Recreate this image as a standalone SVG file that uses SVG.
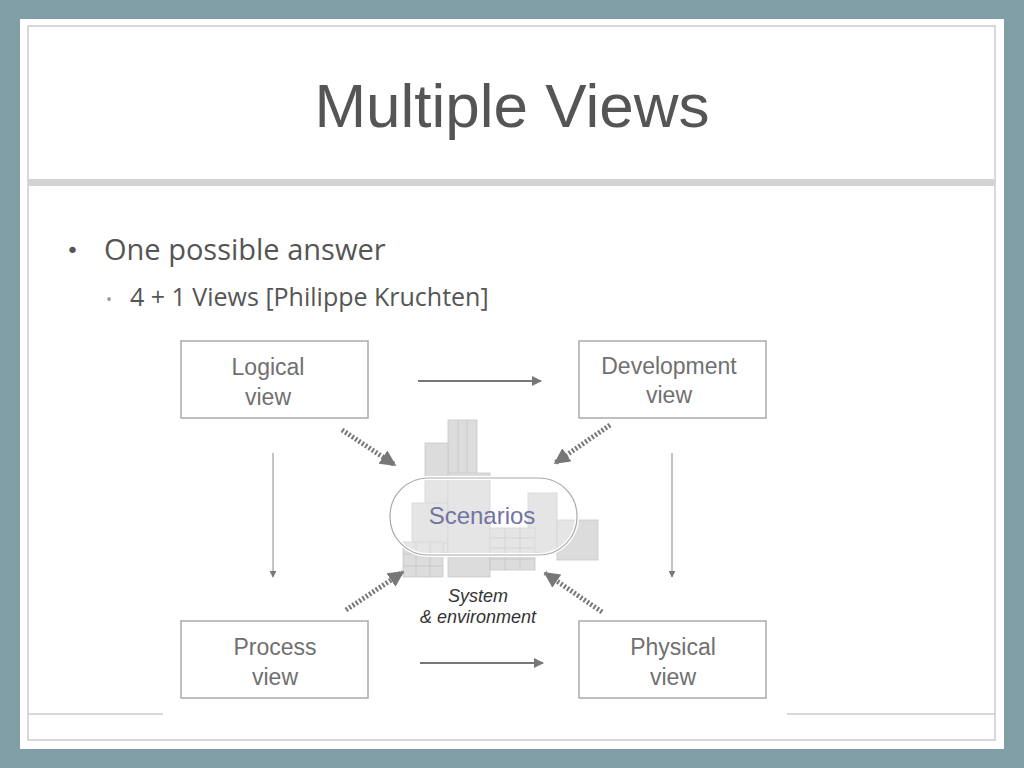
<svg xmlns="http://www.w3.org/2000/svg" width="1024" height="768" viewBox="0 0 1024 768">
<defs>
<marker id="tri" viewBox="0 0 10 10" refX="9" refY="5" markerWidth="3.2" markerHeight="3.2" orient="auto"><path d="M0,0 L10,5 L0,10 z" fill="#777"/></marker>
<marker id="sm" viewBox="0 0 10 10" refX="9" refY="5" markerWidth="7" markerHeight="7" orient="auto" markerUnits="userSpaceOnUse"><path d="M0,0 L10,5 L0,10 z" fill="#777"/></marker>
<marker id="md" viewBox="0 0 10 10" refX="9" refY="5" markerWidth="12" markerHeight="10" orient="auto" markerUnits="userSpaceOnUse"><path d="M0,0 L10,5 L0,10 z" fill="#777"/></marker>
</defs>
<style>
.box{fill:#fff;stroke:#aaa;stroke-width:1.5}
.lbl{font-family:"Liberation Sans",Arial,sans-serif;font-size:23px;fill:#707070;text-anchor:middle}
.bld{fill:#dcdcdc;stroke:#c8c8c8;stroke-width:0.8}
.dot{stroke:#777;stroke-width:5;stroke-dasharray:2 2;fill:none}
.sol{stroke:#777;stroke-width:2;fill:none}
.vert{stroke:#888;stroke-width:1;fill:none}
</style>
<rect width="1024" height="768" fill="#7f9ea6"/>
<rect x="20" y="19" width="984" height="730" fill="#fff"/>
<rect x="28" y="26" width="967" height="714" fill="none" stroke="#ccc" stroke-width="1.5"/>
<rect x="28" y="179" width="967" height="7" fill="#d3d3d3"/>
<text x="512" y="127" font-family="Liberation Sans,Arial,sans-serif" font-size="62" fill="#555" text-anchor="middle">Multiple Views</text>
<text x="66" y="258" font-family="DejaVu Sans,sans-serif" font-size="22" fill="#555">•</text>
<text x="104" y="260" font-family="Open Sans,sans-serif" font-size="29" fill="#555">One possible answer</text>
<text x="106" y="305" font-family="Open Sans,sans-serif" font-size="16" fill="#999">•</text>
<text x="130" y="306" font-family="Open Sans,sans-serif" font-size="25" fill="#555">4 + 1 Views [Philippe Kruchten]</text>
<line x1="28" y1="714" x2="995" y2="714" stroke="#ccc" stroke-width="1.5"/>
<rect x="163" y="330" width="624" height="390" fill="#fff"/>
<g id="scenarios">
<rect class="bld" x="448" y="420" width="29" height="60"/>
<line x1="458" y1="420" x2="458" y2="480" stroke="#c8c8c8"/><line x1="467" y1="420" x2="467" y2="480" stroke="#c8c8c8"/>
<rect class="bld" x="425" y="443" width="23" height="110"/>
<rect class="bld" x="412" y="503" width="36" height="40"/>
<rect class="bld" x="448" y="473" width="42" height="104"/>
<rect class="bld" x="528" y="493" width="29" height="60"/>
<rect class="bld" x="557" y="520" width="41" height="40"/>
<rect class="bld" x="403" y="542" width="40" height="35"/>
<path d="M403,554H443M403,566H443M416,542V577M430,542V577" stroke="#c8c8c8" fill="none"/>
<rect class="bld" x="490" y="528" width="45" height="42"/>
<path d="M490,538H535M490,548H535M490,559H535M505,528V570M520,528V570" stroke="#c8c8c8" fill="none"/>
<rect x="390" y="478" width="187" height="77" rx="38" fill="#fff" fill-opacity="0.25" stroke="#fff" stroke-width="4"/>
<rect x="390" y="478" width="187" height="77" rx="38" fill="none" stroke="#aaa" stroke-width="1.2"/>
<text x="482" y="524" font-family="Liberation Sans,Arial,sans-serif" font-size="24" fill="#7373a3" text-anchor="middle">Scenarios</text>
<text x="478" y="602" font-family="Liberation Sans,Arial,sans-serif" font-size="18" font-style="italic" fill="#333" text-anchor="middle">System</text>
<text x="478" y="623" font-family="Liberation Sans,Arial,sans-serif" font-size="18" font-style="italic" fill="#333" text-anchor="middle">&amp; environment</text>
</g>
<g id="logical"><rect class="box" x="181" y="341" width="187" height="77"/><text class="lbl" x="268" y="375">Logical</text><text class="lbl" x="268" y="405">view</text></g>
<g id="development"><rect class="box" x="579" y="341" width="187" height="77"/><text class="lbl" x="669" y="374">Development</text><text class="lbl" x="669" y="403">view</text></g>
<g id="process"><rect class="box" x="181" y="621" width="187" height="77"/><text class="lbl" x="275" y="655">Process</text><text class="lbl" x="275" y="685">view</text></g>
<g id="physical"><rect class="box" x="579" y="621" width="187" height="77"/><text class="lbl" x="673" y="655">Physical</text><text class="lbl" x="673" y="685">view</text></g>
<g id="connectors">
<line class="sol" x1="418" y1="381" x2="541" y2="381" marker-end="url(#md)"/>
<line class="sol" x1="420" y1="663" x2="543" y2="663" marker-end="url(#md)"/>
<line class="vert" x1="273" y1="453" x2="273" y2="577" marker-end="url(#sm)"/>
<line class="vert" x1="672" y1="453" x2="672" y2="577" marker-end="url(#sm)"/>
<line class="dot" x1="342" y1="430" x2="395" y2="465" marker-end="url(#tri)"/>
<line class="dot" x1="610" y1="425" x2="555" y2="463" marker-end="url(#tri)"/>
<line class="dot" x1="346" y1="610" x2="403" y2="572" marker-end="url(#tri)"/>
<line class="dot" x1="602" y1="612" x2="545" y2="573" marker-end="url(#tri)"/>
</g>
</svg>
